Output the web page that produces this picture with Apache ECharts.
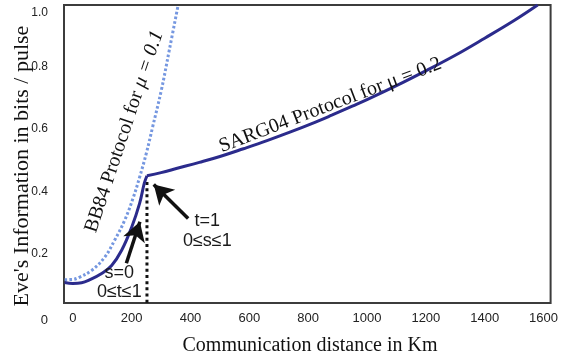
<!DOCTYPE html>
<html><head><meta charset="utf-8">
<script src="https://cdn.jsdelivr.net/npm/echarts@6/dist/echarts.min.js"></script>
<style>html,body{margin:0;padding:0;background:#fff}#c{width:561px;height:358px}</style>
</head><body><div id="c"></div>
<script>
// ---- data ----
const xTickValues = [0, 200, 400, 600, 800, 1000, 1200, 1400, 1600];
const yTickValues = [0.04, 0.2, 0.4, 0.6, 0.8, 1.0];
const xMin = -30, xMax = 1624, yMin = 0.04, yMax = 1.0;

// SARG04 (mu = 0.2), branch s=0, 0<=t<=1
const sargLowKm  = [-28, 0, 30, 54, 98, 132, 166, 200, 227, 243, 252];
const sargLowVal = [0.106, 0.103, 0.105, 0.113, 0.135, 0.161, 0.210, 0.284, 0.361, 0.426, 0.450];
// SARG04 (mu = 0.2), branch t=1, 0<=s<=1
const sargHighKm  = [252, 300, 355, 430, 500, 580, 660, 740, 810, 880, 950, 1000, 1100, 1200, 1300, 1400, 1500, 1580];
const sargHighVal = [0.450, 0.460, 0.474, 0.493, 0.512, 0.537, 0.563, 0.591, 0.617, 0.645, 0.674, 0.695, 0.740, 0.788, 0.838, 0.893, 0.950, 1.0];
// BB84 (mu = 0.1)
const bb84Km  = [-28, 0, 20, 64, 108, 142, 176, 206, 227, 250, 271, 301, 328, 358];
const bb84Val = [0.115, 0.116, 0.122, 0.145, 0.187, 0.242, 0.306, 0.381, 0.445, 0.523, 0.606, 0.726, 0.855, 1.0];
// switching point
const kinkKm = 252, kinkVal = 0.450;
// annotation arrows [fromKm, fromVal, toKm, toVal]
const arrowT1 = [392, 0.312, 275, 0.422];
const arrowS0 = [182, 0.168, 228, 0.302];
// annotation texts
const noteT1 = 't=1\n0≤s≤1', noteT1At = [457, 0.271];
const noteS0 = 's=0\n0≤t≤1', noteS0At = [158, 0.106];
const labelBB84 = 'BB84 Protocol for {i|μ = 0.1}', labelBB84At = [175, 0.592];
const labelSARG = 'SARG04 Protocol for μ = 0.2', labelSARGAt = [875, 0.677];
const xTitle = 'Communication distance in Km';
const yTitle = "Eve's Information in bits / pulse";

const zip = (a, b) => a.map((v, i) => [v, b[i]]);

const chart = echarts.init(document.getElementById('c'), null, {renderer: 'canvas'});
const sans = 'Liberation Sans, Arial, sans-serif';
const serif = 'Liberation Serif, Times New Roman, serif';

const option = {
  animation: false,
  backgroundColor: '#fff',
  grid: {left: 64, right: 8, top: 5, bottom: 55, show: true, borderColor: '#3c3c3c', borderWidth: 2, backgroundColor: 'transparent'},
  xAxis: {
    type: 'value', min: xMin, max: xMax,
    axisLine: {show: false}, axisTick: {show: false}, splitLine: {show: false},
    axisLabel: {customValues: xTickValues, formatter: v => String(v), margin: 9, fontSize: 13, color: '#222', fontFamily: sans}
  },
  yAxis: {
    type: 'value', min: yMin, max: yMax,
    axisLine: {show: false}, axisTick: {show: false}, splitLine: {show: false},
    axisLabel: {
      customValues: yTickValues, margin: 16, fontSize: 12, color: '#222', fontFamily: sans,
      formatter: v => v < 0.1 ? '{z|0}' : (v > 0.99 ? '{t|1.0}' : v.toFixed(1)),
      rich: {
        z: {padding: [34, 0, 0, 0], fontSize: 13, color: '#222', fontFamily: sans},
        t: {padding: [16, 0, 0, 0], fontSize: 12, color: '#222', fontFamily: sans}
      }
    }
  },
  series: [
    {type: 'line', name: 'BB84', data: zip(bb84Km, bb84Val), smooth: 0.4, showSymbol: false, symbol: 'none',
     lineStyle: {color: '#7597e0', width: 3, type: [2.6, 2.2]}, z: 2},
    {type: 'line', name: 'SARG04', data: zip(sargLowKm, sargLowVal), smooth: 0.4, showSymbol: false, symbol: 'none',
     lineStyle: {color: '#2b2b8c', width: 3}, z: 3},
    {type: 'line', name: 'SARG04', data: zip(sargHighKm, sargHighVal), smooth: 0.4, showSymbol: false, symbol: 'none',
     lineStyle: {color: '#2b2b8c', width: 3}, z: 3},
    {type: 'line', name: 'switch', data: [[kinkKm, kinkVal - 0.02], [kinkKm, yMin]], showSymbol: false, symbol: 'none',
     lineStyle: {color: '#111', width: 3, type: [3, 3.2]}, z: 2,
     markLine: {
       silent: true, symbol: ['none', 'arrow'], symbolSize: [17, 19],
       label: {show: false},
       lineStyle: {color: '#111', width: 3.5, type: 'solid'},
       data: [
         [{coord: [arrowT1[0], arrowT1[1]]}, {coord: [arrowT1[2], arrowT1[3]]}],
         [{coord: [arrowS0[0], arrowS0[1]]}, {coord: [arrowS0[2], arrowS0[3]]}]
       ]
     }}
  ]
};
chart.setOption(option);

const px = p => chart.convertToPixel({gridIndex: 0}, p);
const p1 = px(noteT1At), p2 = px(noteS0At), pb = px(labelBB84At), ps = px(labelSARGAt);
chart.setOption({
  graphic: [
    {type: 'text', x: p1[0], y: p1[1], z: 10, style: {text: noteT1, align: 'center', verticalAlign: 'middle', font: '18px ' + sans, fill: '#1a1a1a', lineHeight: 20}},
    {type: 'text', x: p2[0], y: p2[1], z: 10, style: {text: noteS0, align: 'center', verticalAlign: 'middle', font: '18px ' + sans, fill: '#1a1a1a', lineHeight: 19}},
    {type: 'text', x: pb[0], y: pb[1], rotation: 1.248, z: 10, style: {text: labelBB84, align: 'center', verticalAlign: 'middle', font: '20px ' + serif, fill: '#111',
      rich: {i: {fontStyle: 'italic', fontSize: 20, fontFamily: serif, fill: '#111'}}}},
    {type: 'text', x: ps[0], y: ps[1], rotation: 0.365, z: 10, style: {text: labelSARG, align: 'center', verticalAlign: 'middle', font: '20px ' + serif, fill: '#111'}},
    {type: 'text', x: 310, y: 346, style: {text: xTitle, align: 'center', verticalAlign: 'middle', font: '20px ' + serif, fill: '#111'}},
    {type: 'text', x: 22, y: 166, rotation: Math.PI / 2, style: {text: yTitle, align: 'center', verticalAlign: 'middle', font: '22px ' + serif, fill: '#111'}}
  ]
});
</script></body></html>
